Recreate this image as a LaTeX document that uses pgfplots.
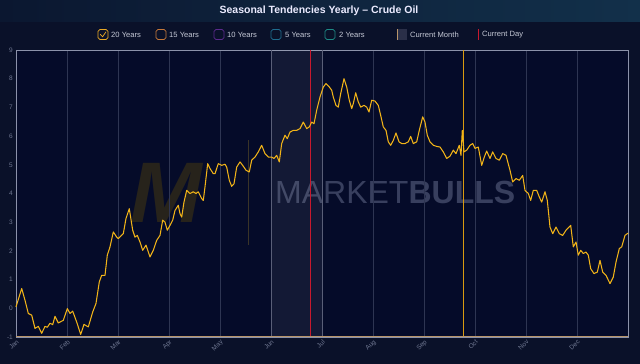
\documentclass[border=0pt]{standalone}
\usepackage{pgfplots}
\pgfplotsset{compat=1.18}
\usepackage{pgfplotstable}
\usepackage{fontspec}
\setmainfont{Liberation Sans}
\definecolor{bg}{HTML}{0A1129}
\definecolor{plotbg}{HTML}{050B29}
\definecolor{titleL}{HTML}{0B1730}
\definecolor{titleR}{HTML}{12304A}
\definecolor{gridc}{HTML}{2E3552}
\definecolor{gridm}{HTML}{5A5F78}
\definecolor{borderc}{HTML}{8C92AA}
\definecolor{tanc}{HTML}{B8956A}
\definecolor{linec}{HTML}{F2B418}
\definecolor{septC}{HTML}{D99A10}
\definecolor{redl}{HTML}{C8192E}
\definecolor{ticktext}{HTML}{6E7690}
\definecolor{legtext}{HTML}{C5C9D6}
\definecolor{c20}{HTML}{E8A825}
\definecolor{c15}{HTML}{C4783A}
\definecolor{c10}{HTML}{5B2A8C}
\definecolor{c5}{HTML}{1F6C8E}
\definecolor{c2}{HTML}{1E8A86}
\definecolor{wmtext}{HTML}{383F5E}
\definecolor{wmlogo}{HTML}{27231B}
\definecolor{wmbar}{HTML}{3A3428}
\definecolor{legmonth}{HTML}{2A2F48}

\pgfplotstableread{
px val
16 0.05
21.7 0.69
25 0.28
28.3 -0.18
31.7 -0.24
35 -0.70
38.3 -0.63
41.7 -0.87
45 -0.63
47.3 -0.66
50 -0.52
52.7 -0.57
55 -0.28
58.3 -0.51
63.3 -0.42
67.3 -0.01
70 -0.18
72.7 -0.10
76.7 -0.48
80.7 -0.91
84 -0.56
88.3 -0.65
92.7 -0.13
96 0.17
99.3 0.92
101.7 1.15
105 1.15
107.3 1.85
110 2.14
113.3 2.66
116.7 2.48
118.3 2.43
123.3 2.60
126 3.13
129.3 3.47
132.7 2.72
135 2.48
137.3 2.54
140 2.31
142.7 2.02
146 2.20
150 1.79
153.3 2.02
156.7 2.37
160 2.54
162.7 3.07
165 3.00
167.3 2.72
170 2.89
172.7 3.07
175 3.41
178.3 3.59
180 3.30
181.7 3.18
184 3.70
186.7 4.11
190 4.00
193.3 4.06
196 4.00
198.3 4.06
201.7 3.82
203.3 3.76
205 4.23
207.7 5.04
210 4.87
213.3 4.69
215 4.69
218.3 5.04
221.7 4.98
225 5.02
226.7 4.92
229.3 4.46
231.7 4.25
234 4.34
236.7 4.92
240 5.10
242.7 4.98
246 4.81
249.3 4.75
251.7 5.16
255 5.27
258.3 5.45
261.7 5.68
265 5.39
268.3 5.27
271.7 5.27
274 5.22
276.7 5.33
279.3 5.10
281.7 5.74
285 6.03
287.3 5.91
290 6.14
293.3 6.20
296.7 6.20
300 6.26
303.3 6.49
306.7 6.26
309.3 6.32
311.7 6.49
314 6.43
316.7 6.90
320 7.36
323.3 7.71
326 7.83
329.3 7.71
331.7 7.60
333.3 7.36
336 7.07
338.3 7.01
340.7 7.48
344 8.00
346.7 7.71
349.3 7.25
351.7 6.96
353.3 7.13
355.7 7.51
358.3 7.19
360.7 7.01
364 7.07
366.7 7.01
369 6.84
371.7 7.25
375 7.22
378.3 7.07
380.7 6.72
383.3 6.32
386 6.20
388.3 5.80
390.7 5.68
393.3 5.85
396 6.11
399 5.80
401.7 5.74
405 5.74
408.3 5.80
410.7 5.99
413.3 5.74
416.7 5.80
419.3 6.20
422.7 6.67
425 6.49
427.3 6.03
430 5.80
433.3 5.68
436.7 5.64
440 5.62
443.3 5.45
446.7 5.22
450 5.30
453.3 5.51
456 5.39
459.3 5.68
461 5.33
462.3 6.20
464 5.45
466.7 5.51
470 5.68
472.7 5.74
475 5.57
478.3 5.62
481.7 4.98
484.3 5.27
486.7 5.48
490 5.22
492.7 5.45
496 5.22
499.3 5.16
502.7 5.39
506 5.33
510 4.81
512.7 4.40
516 4.52
519.3 4.46
522.7 4.63
525 4.11
528.3 4.00
530.7 3.76
533.3 4.11
536.7 4.11
539.3 3.88
541.7 3.70
545 4.06
547.3 3.76
550 2.83
552.7 2.60
556 2.83
559.3 2.60
562.7 2.54
566 2.72
570.7 2.89
573.3 2.14
576 2.31
578.3 1.85
580.7 2.02
583.3 1.91
586 1.96
588.3 1.85
590.7 1.38
594 1.21
597.3 1.26
600 1.67
602.7 1.26
606 1.15
610 0.86
613.3 1.09
616 1.61
619.3 2.08
621.7 2.14
625 2.54
628 2.62
}\crude

\begin{document}
\begin{tikzpicture}
\begin{scope}[x=1pt,y=1pt]
% backgrounds
\fill[bg] (0,0) rectangle (640,364);
\shade[left color=titleL,right color=titleR] (0,342) rectangle (640,364);
\node[text=white!92!blue, font=\fontsize{10.5}{12}\selectfont\bfseries] at (319,353.5) {Seasonal Tendencies Yearly – Crude Oil};
% legend
\begin{scope}[line width=0.7pt, rounded corners=1.8pt]
\draw[c20] (98,324.5) rectangle (108,334.5);
\draw[c20,rounded corners=0pt] (100.2,329.8) -- (102.6,327.2) -- (106,332.2);
\draw[c15] (156,324.5) rectangle (166,334.5);
\draw[c10] (214,324.5) rectangle (224,334.5);
\draw[c5] (271,324.5) rectangle (281,334.5);
\draw[c2] (325,324.5) rectangle (335,334.5);
\end{scope}
\fill[legmonth] (397,324) rectangle (407,335);
\draw[tanc,line width=0.8pt] (397,324) -- (397,335);
\draw[redl,line width=0.8pt] (478,324) -- (478,335);
\begin{scope}[every node/.style={anchor=west, inner sep=0pt, text=legtext, font=\fontsize{7.6}{9}\selectfont}]
\node at (111,329.5) {20 Years};
\node at (169,329.5) {15 Years};
\node at (227,329.5) {10 Years};
\node at (285,329.5) {5 Years};
\node at (339,329.5) {2 Years};
\node at (410,329.5) {Current Month};
\node at (482,329.5) {Current Day};
\end{scope}
% plot background and watermark
\fill[plotbg] (16,27) rectangle (628,314);
\node[text=wmlogo, font=\fontsize{86}{88}\selectfont\bfseries\itshape, inner sep=0pt] at (166,171) {M};
\fill[wmbar] (247.5,119) rectangle (249,224);
\node[anchor=west, inner sep=0pt, text=wmtext, font=\fontsize{32}{34}\selectfont] at (275,171.5) {MARKET\textbf{BULLS}};
\end{scope}
\begin{axis}[
  at={(16pt,27pt)}, anchor=south west, scale only axis,
  width=612pt, height=287pt,
  xmin=0, xmax=12, ymin=-1, ymax=9,
  xtick={0,...,11},
  xticklabels={Jan,Feb,Mar,Apr,May,Jun,Jul,Aug,Sep,Oct,Nov,Dec},
  ytick={-1,0,...,9},
  major tick length=0pt,
  xmajorgrids, grid style={gridc, line width=0.5pt},
  axis line style={borderc, line width=0.6pt},
  tick label style={text=ticktext, font=\fontsize{6.5}{7.5}\selectfont},
  /pgf/number format/assume math mode=true,
  xticklabel style={rotate=45, anchor=north east, inner sep=1.5pt},
  yticklabel style={inner sep=1pt, xshift=-2pt},
  clip=false,
]
\addplot[draw=none, fill=white, fill opacity=0.06] coordinates {(5,-1) (6,-1) (6,9) (5,9)} -- cycle;
\addplot[gridm, line width=0.6pt] coordinates {(5,-1) (5,9)};
\addplot[gridm, line width=0.6pt] coordinates {(6,-1) (6,9)};
\addplot[draw=redl, line width=1pt] coordinates {(5.784,-1) (5.784,9)};
\addplot[color=septC, line width=1.1pt] coordinates {(8.77,-1) (8.77,9)};
\addplot[draw=linec, line width=1.05pt, line join=round] table[x expr={(\thisrow{px}-16)/51}, y=val] {\crude};
\addplot[draw=tanc, line width=1pt] coordinates {(0,-1) (12,-1)};
\end{axis}
\end{tikzpicture}
\end{document}
